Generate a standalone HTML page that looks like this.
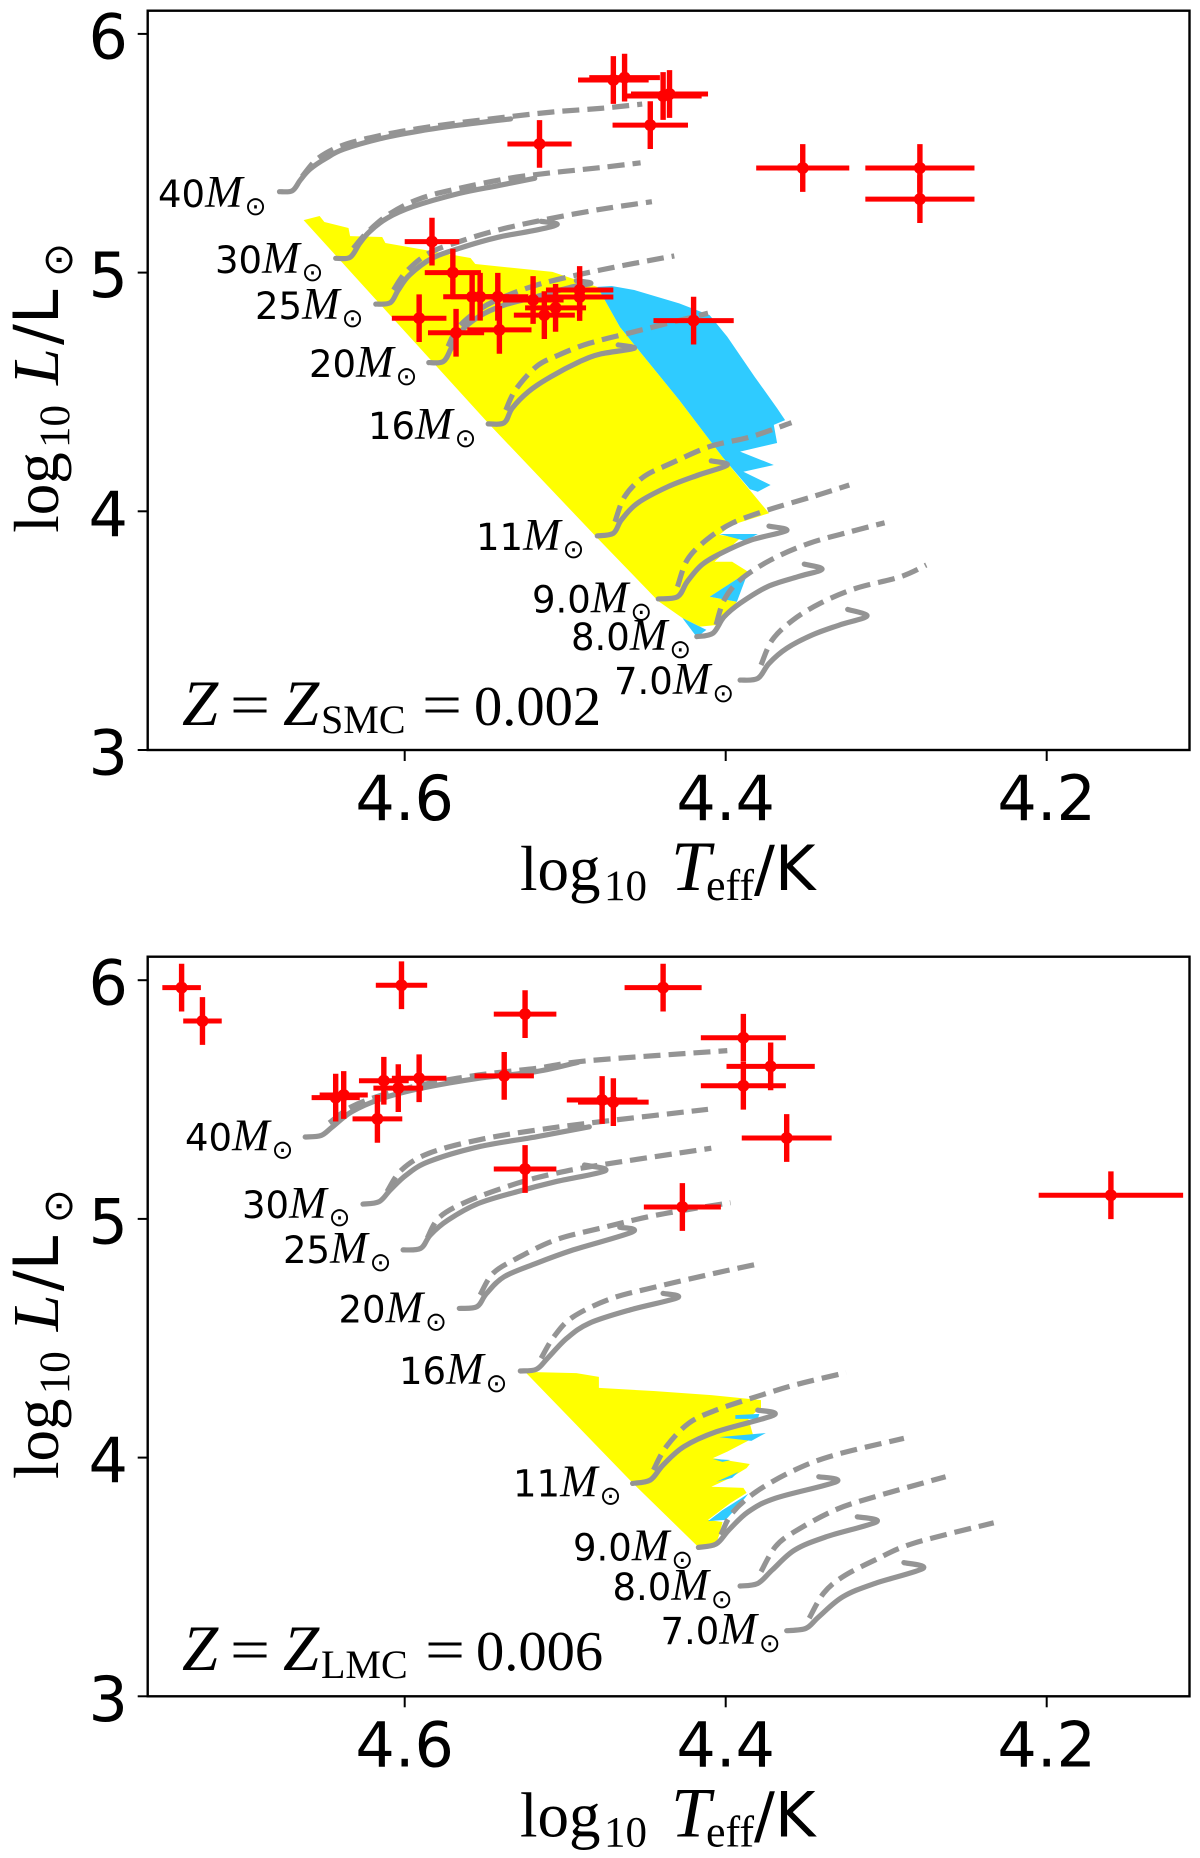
<!DOCTYPE html>
<html lang="en">
<head>
<meta charset="utf-8">
<title>HR diagrams for SMC and LMC metallicity</title>
<style>
html,body{margin:0;padding:0;background:#fff;}
svg{display:block;}
.tick{font-family:"DejaVu Sans","Liberation Sans",sans-serif;font-size:62px;fill:#000;}
.sans{font-family:"DejaVu Sans","Liberation Sans",sans-serif;fill:#000;}
.serif{font-family:"Liberation Serif",serif;fill:#000;}
.ital{font-family:"Liberation Serif",serif;font-style:italic;fill:#000;}
.mass{font-family:"DejaVu Sans","Liberation Sans",sans-serif;font-size:37px;fill:#000;}
.mass .m{font-family:"Liberation Serif",serif;font-style:italic;font-size:45px;}
.mass .s{font-family:"DejaVu Sans",sans-serif;font-size:26px;}
</style>
</head>
<body>
<svg id="figure" xmlns="http://www.w3.org/2000/svg" width="1200" height="1858" viewBox="0 0 1200 1858">
  <rect width="1200" height="1858" fill="#fff"/>
  <g id="panel-smc"></g>
  <g id="panel-lmc"></g>

  <!-- axis titles: top panel -->
  <g>
    <text class="serif" x="520" y="890" font-size="63">log</text>
    <text class="serif" x="604" y="900" font-size="43">10</text>
    <text class="ital" x="671" y="890" font-size="71">T</text>
    <text class="serif" x="706" y="900" font-size="44">eff</text>
    <text class="sans" x="754" y="890" font-size="62">/K</text>
  </g>
  <g>
    <text class="serif" x="58" y="532.7" font-size="63" transform="rotate(-90 58 532.7)">log</text>
    <text class="serif" x="69" y="448" font-size="43" transform="rotate(-90 69 448)">10</text>
    <text class="ital" x="58" y="385" font-size="66" transform="rotate(-90 58 385)">L</text>
    <text class="sans" x="58" y="345" font-size="62" transform="rotate(-90 58 345)">/L</text>
    <text class="sans" x="72" y="277" font-size="41" transform="rotate(-90 72 277)">⊙</text>
  </g>
  <!-- axis titles: bottom panel -->
  <g>
    <text class="serif" x="520" y="1836.3" font-size="63">log</text>
    <text class="serif" x="604" y="1846.3" font-size="43">10</text>
    <text class="ital" x="671" y="1836.3" font-size="71">T</text>
    <text class="serif" x="706" y="1846.3" font-size="44">eff</text>
    <text class="sans" x="754" y="1836.3" font-size="62">/K</text>
  </g>
  <g>
    <text class="serif" x="58" y="1479" font-size="63" transform="rotate(-90 58 1479)">log</text>
    <text class="serif" x="69" y="1394.3" font-size="43" transform="rotate(-90 69 1394.3)">10</text>
    <text class="ital" x="58" y="1331.3" font-size="66" transform="rotate(-90 58 1331.3)">L</text>
    <text class="sans" x="58" y="1291.3" font-size="62" transform="rotate(-90 58 1291.3)">/L</text>
    <text class="sans" x="72" y="1223.3" font-size="41" transform="rotate(-90 72 1223.3)">⊙</text>
  </g>

  <!-- metallicity annotations -->
  <g>
    <text class="ital" x="182" y="725" font-size="65">Z</text>
    <text class="serif" x="230" y="725" font-size="60" textLength="40" lengthAdjust="spacingAndGlyphs">=</text>
    <text class="ital" x="283" y="725" font-size="65">Z</text>
    <text class="serif" x="321" y="733" font-size="40">SMC</text>
    <text class="serif" x="422" y="725" font-size="60" textLength="40" lengthAdjust="spacingAndGlyphs">=</text>
    <text class="serif" x="474" y="725" font-size="56.5">0.002</text>
  </g>
  <g>
    <text class="ital" x="182" y="1670" font-size="65">Z</text>
    <text class="serif" x="230" y="1670" font-size="60" textLength="40" lengthAdjust="spacingAndGlyphs">=</text>
    <text class="ital" x="283" y="1670" font-size="65">Z</text>
    <text class="serif" x="321" y="1678" font-size="40">LMC</text>
    <text class="serif" x="425" y="1670" font-size="60" textLength="40" lengthAdjust="spacingAndGlyphs">=</text>
    <text class="serif" x="476" y="1670" font-size="56.5">0.006</text>
  </g>

  <!-- mass labels: top panel -->
  <text class="mass" x="158" y="207">40<tspan class="m">M</tspan><tspan class="s" dx="2" dy="8">⊙</tspan></text>
  <text class="mass" x="215" y="273">30<tspan class="m">M</tspan><tspan class="s" dx="2" dy="8">⊙</tspan></text>
  <text class="mass" x="255" y="319">25<tspan class="m">M</tspan><tspan class="s" dx="2" dy="8">⊙</tspan></text>
  <text class="mass" x="309" y="377">20<tspan class="m">M</tspan><tspan class="s" dx="2" dy="8">⊙</tspan></text>
  <text class="mass" x="368" y="439">16<tspan class="m">M</tspan><tspan class="s" dx="2" dy="8">⊙</tspan></text>
  <text class="mass" x="476" y="550">11<tspan class="m">M</tspan><tspan class="s" dx="2" dy="8">⊙</tspan></text>
  <text class="mass" x="532" y="612.7">9.0<tspan class="m">M</tspan><tspan class="s" dx="2" dy="8">⊙</tspan></text>
  <text class="mass" x="571" y="650">8.0<tspan class="m">M</tspan><tspan class="s" dx="2" dy="8">⊙</tspan></text>
  <text class="mass" x="614" y="694">7.0<tspan class="m">M</tspan><tspan class="s" dx="2" dy="8">⊙</tspan></text>
  <!-- mass labels: bottom panel -->
  <text class="mass" x="185" y="1150.7">40<tspan class="m">M</tspan><tspan class="s" dx="2" dy="8">⊙</tspan></text>
  <text class="mass" x="242" y="1218">30<tspan class="m">M</tspan><tspan class="s" dx="2" dy="8">⊙</tspan></text>
  <text class="mass" x="283" y="1263">25<tspan class="m">M</tspan><tspan class="s" dx="2" dy="8">⊙</tspan></text>
  <text class="mass" x="338.5" y="1322.7">20<tspan class="m">M</tspan><tspan class="s" dx="2" dy="8">⊙</tspan></text>
  <text class="mass" x="399" y="1384">16<tspan class="m">M</tspan><tspan class="s" dx="2" dy="8">⊙</tspan></text>
  <text class="mass" x="513" y="1496.7">11<tspan class="m">M</tspan><tspan class="s" dx="2" dy="8">⊙</tspan></text>
  <text class="mass" x="573" y="1560.7">9.0<tspan class="m">M</tspan><tspan class="s" dx="2" dy="8">⊙</tspan></text>
  <text class="mass" x="612.5" y="1600">8.0<tspan class="m">M</tspan><tspan class="s" dx="2" dy="8">⊙</tspan></text>
  <text class="mass" x="660.5" y="1644">7.0<tspan class="m">M</tspan><tspan class="s" dx="2" dy="8">⊙</tspan></text>
</svg>

<script>
// ---- shared axis data ----
const xTickValues = [4.6, 4.4, 4.2];
const xTickLabels = ['4.6', '4.4', '4.2'];
const yTickValues = [6, 5, 4, 3];
const yTickLabels = ['6', '5', '4', '3'];

// ---- SMC tracks: [log Teff, log L] ----
const smc40Solid = [[4.678,5.339],[4.670,5.343],[4.665,5.388],[4.659,5.433],[4.649,5.479],[4.638,5.517],[4.614,5.563],[4.590,5.594],[4.566,5.618],[4.534,5.644]];
const smc40Dashed = [[4.664,5.402],[4.654,5.479],[4.638,5.535],[4.614,5.576],[4.590,5.605],[4.566,5.628],[4.535,5.653],[4.506,5.674],[4.478,5.688],[4.452,5.706]];
const smc30Solid = [[4.643,5.060],[4.634,5.064],[4.628,5.123],[4.622,5.171],[4.611,5.228],[4.595,5.276],[4.566,5.332],[4.542,5.364],[4.519,5.395]];
const smc30Dashed = [[4.632,5.102],[4.623,5.171],[4.609,5.248],[4.590,5.311],[4.566,5.353],[4.535,5.395],[4.506,5.420],[4.478,5.440],[4.453,5.460]];
const smc25Solid = [[4.618,4.868],[4.609,4.874],[4.604,4.927],[4.597,4.990],[4.583,5.060],[4.566,5.102],[4.542,5.148],[4.518,5.178],[4.505,5.202],[4.515,5.215]];
const smc25Dashed = [[4.607,4.927],[4.599,5.004],[4.585,5.081],[4.566,5.130],[4.542,5.178],[4.514,5.220],[4.478,5.265],[4.446,5.297]];
const smc20Solid = [[4.585,4.623],[4.576,4.627],[4.571,4.683],[4.566,4.746],[4.554,4.815],[4.538,4.864],[4.518,4.899],[4.495,4.941],[4.484,4.955],[4.493,4.966]];
const smc20Dashed = [[4.573,4.690],[4.567,4.767],[4.554,4.843],[4.538,4.899],[4.514,4.955],[4.478,5.011],[4.432,5.070]];
const smc16Solid = [[4.548,4.366],[4.538,4.371],[4.533,4.432],[4.523,4.501],[4.509,4.564],[4.491,4.627],[4.478,4.659],[4.457,4.683],[4.467,4.697]];
const smc16Dashed = [[4.537,4.424],[4.531,4.508],[4.518,4.606],[4.504,4.655],[4.485,4.704],[4.457,4.752],[4.411,4.830]];
const smc11Solid = [[4.480,3.897],[4.470,3.908],[4.465,3.964],[4.455,4.034],[4.436,4.103],[4.417,4.152],[4.399,4.194],[4.409,4.211]];
const smc11Dashed = [[4.469,3.956],[4.463,4.061],[4.451,4.145],[4.434,4.201],[4.410,4.271],[4.384,4.313],[4.359,4.371]];
const smc9Solid = [[4.442,3.633],[4.430,3.642],[4.424,3.705],[4.415,3.775],[4.403,3.824],[4.384,3.880],[4.362,3.919],[4.373,3.938]];
const smc9Dashed = [[4.430,3.684],[4.424,3.796],[4.412,3.880],[4.396,3.950],[4.374,4.005],[4.346,4.061],[4.323,4.110]];
const smc8Solid = [[4.418,3.475],[4.408,3.489],[4.401,3.558],[4.391,3.615],[4.374,3.684],[4.355,3.726],[4.340,3.757],[4.351,3.779]];
const smc8Dashed = [[4.406,3.524],[4.401,3.628],[4.391,3.712],[4.372,3.796],[4.348,3.866],[4.322,3.915],[4.301,3.952]];
const smc7Solid = [[4.391,3.293],[4.380,3.300],[4.373,3.363],[4.362,3.426],[4.346,3.482],[4.329,3.524],[4.312,3.561],[4.324,3.589]];
const smc7Dashed = [[4.378,3.356],[4.371,3.461],[4.358,3.545],[4.341,3.615],[4.319,3.677],[4.291,3.726],[4.275,3.775]];

// ---- LMC tracks: [log Teff, log L] ----
const lmc40Solid = [[4.662,5.343],[4.652,5.350],[4.645,5.386],[4.633,5.449],[4.614,5.505],[4.590,5.547],[4.554,5.589],[4.518,5.617],[4.492,5.656]];
const lmc40Dashed = [[4.647,5.402],[4.633,5.470],[4.614,5.519],[4.590,5.561],[4.554,5.603],[4.518,5.631],[4.485,5.663],[4.399,5.705]];
const lmc30Solid = [[4.626,5.062],[4.616,5.072],[4.609,5.121],[4.599,5.184],[4.585,5.240],[4.554,5.302],[4.518,5.344],[4.485,5.386]];
const lmc30Dashed = [[4.611,5.114],[4.602,5.205],[4.585,5.275],[4.554,5.331],[4.518,5.372],[4.478,5.407],[4.411,5.459]];
const lmc25Solid = [[4.601,4.870],[4.590,4.877],[4.584,4.933],[4.573,4.995],[4.554,5.065],[4.530,5.114],[4.506,5.156],[4.475,5.202],[4.488,5.226]];
const lmc25Dashed = [[4.586,4.919],[4.578,5.009],[4.559,5.079],[4.530,5.149],[4.506,5.191],[4.478,5.226],[4.409,5.296]];
const lmc20Solid = [[4.566,4.625],[4.555,4.632],[4.549,4.688],[4.538,4.758],[4.518,4.814],[4.495,4.870],[4.458,4.946],[4.466,4.965]];
const lmc20Dashed = [[4.553,4.681],[4.545,4.772],[4.530,4.835],[4.506,4.912],[4.478,4.961],[4.443,5.016],[4.397,5.068]];
const lmc16Solid = [[4.528,4.363],[4.518,4.370],[4.511,4.416],[4.499,4.500],[4.485,4.563],[4.460,4.618],[4.430,4.670],[4.439,4.688]];
const lmc16Dashed = [[4.515,4.416],[4.507,4.507],[4.495,4.590],[4.471,4.667],[4.443,4.716],[4.407,4.772],[4.378,4.814]];
const lmc11Solid = [[4.458,3.892],[4.447,3.906],[4.439,3.969],[4.426,4.046],[4.406,4.108],[4.370,4.178],[4.380,4.199]];
const lmc11Dashed = [[4.445,3.948],[4.437,4.046],[4.423,4.144],[4.406,4.199],[4.381,4.255],[4.357,4.304],[4.325,4.356]];
const lmc9Solid = [[4.417,3.624],[4.406,3.638],[4.398,3.697],[4.386,3.773],[4.369,3.830],[4.331,3.899],[4.342,3.920]];
const lmc9Dashed = [[4.403,3.676],[4.396,3.767],[4.381,3.857],[4.357,3.948],[4.332,4.011],[4.289,4.081]];
const lmc8Solid = [[4.391,3.462],[4.380,3.473],[4.371,3.529],[4.357,3.613],[4.337,3.669],[4.306,3.731],[4.318,3.752]];
const lmc8Dashed = [[4.378,3.522],[4.369,3.627],[4.357,3.690],[4.332,3.780],[4.307,3.836],[4.263,3.920]];
const lmc7Solid = [[4.362,3.275],[4.350,3.285],[4.342,3.333],[4.327,3.417],[4.307,3.473],[4.277,3.536],[4.289,3.560]];
const lmc7Dashed = [[4.348,3.327],[4.339,3.432],[4.327,3.501],[4.307,3.571],[4.283,3.641],[4.233,3.727]];

const trackMasses = ['40', '30', '25', '20', '16', '11', '9', '8', '7'];
const smcSolidTracks = [smc40Solid, smc30Solid, smc25Solid, smc20Solid, smc16Solid, smc11Solid, smc9Solid, smc8Solid, smc7Solid];
const smcDashedTracks = [smc40Dashed, smc30Dashed, smc25Dashed, smc20Dashed, smc16Dashed, smc11Dashed, smc9Dashed, smc8Dashed, smc7Dashed];
const lmcSolidTracks = [lmc40Solid, lmc30Solid, lmc25Solid, lmc20Solid, lmc16Solid, lmc11Solid, lmc9Solid, lmc8Solid, lmc7Solid];
const lmcDashedTracks = [lmc40Dashed, lmc30Dashed, lmc25Dashed, lmc20Dashed, lmc16Dashed, lmc11Dashed, lmc9Dashed, lmc8Dashed, lmc7Dashed];

// ---- Observed stars ----
const smcStarTeff = [4.516,4.583,4.570,4.558,4.553,4.542,4.591,4.568,4.541,4.520,4.513,4.506,4.491,4.491,4.470,4.463,4.439,4.435,4.447,4.352,4.279,4.279,4.420];
const smcStarLum = [5.539,5.130,5.000,4.899,4.899,4.899,4.809,4.748,4.760,4.885,4.822,4.852,4.927,4.898,5.807,5.817,5.740,5.748,5.618,5.438,5.438,5.308,4.799];
const smcStarTeffErr = [0.020,0.017,0.0175,0.018,0.018,0.019,0.017,0.0175,0.020,0.019,0.019,0.019,0.021,0.021,0.022,0.022,0.024,0.024,0.0235,0.029,0.034,0.034,0.025];
const lmcStarTeff = [4.739,4.726,4.602,4.525,4.643,4.638,4.613,4.604,4.591,4.538,4.617,4.525,4.439,4.477,4.470,4.389,4.372,4.389,4.362,4.160,4.427];
const lmcStarLum = [5.969,5.829,5.979,5.858,5.508,5.519,5.579,5.548,5.589,5.599,5.419,5.209,5.969,5.498,5.489,5.759,5.639,5.558,5.339,5.099,5.050];
const lmcStarTeffErr = [0.012,0.012,0.016,0.0195,0.015,0.015,0.0155,0.0155,0.017,0.0185,0.0155,0.0195,0.024,0.022,0.022,0.0265,0.0275,0.0265,0.028,0.045,0.024];
const starLumErr = 0.1;

// ---- Shaded regions: [log Teff, log L] outlines ----
const smcYellowRegion = [[4.663,5.220],[4.653,5.237],[4.650,5.212],[4.635,5.187],[4.634,5.153],[4.614,5.149],[4.612,5.124],[4.559,5.061],[4.556,5.036],[4.508,5.003],[4.480,4.940],[4.466,4.772],[4.429,4.466],[4.402,4.227],[4.373,3.992],[4.396,3.943],[4.404,3.901],[4.391,3.887],[4.407,3.789],[4.396,3.789],[4.386,3.747],[4.410,3.642],[4.393,3.621],[4.405,3.524],[4.416,3.517],[4.427,3.553],[4.442,3.624],[4.480,3.888],[4.547,4.362]];
const smcBlueRegion = [[4.480,4.940],[4.471,4.944],[4.457,4.927],[4.429,4.871],[4.410,4.822],[4.399,4.731],[4.382,4.564],[4.368,4.432],[4.363,4.382],[4.370,4.362],[4.368,4.286],[4.391,4.250],[4.370,4.194],[4.389,4.166],[4.372,4.110],[4.380,4.082],[4.385,4.093],[4.402,4.227],[4.429,4.466],[4.466,4.772]];
const smcBluePatchA = [[4.404,3.905],[4.380,3.905],[4.388,3.876]];
const smcBluePatchB = [[4.410,3.642],[4.386,3.747],[4.393,3.621]];
const smcBluePatchC = [[4.427,3.553],[4.412,3.503],[4.418,3.473]];
const lmcYellowRegion = [[4.525,4.359],[4.493,4.354],[4.479,4.338],[4.479,4.292],[4.445,4.279],[4.409,4.262],[4.378,4.241],[4.378,4.208],[4.386,4.166],[4.383,4.095],[4.385,4.074],[4.399,4.025],[4.408,3.998],[4.385,3.973],[4.387,3.956],[4.397,3.915],[4.409,3.878],[4.389,3.873],[4.387,3.852],[4.397,3.810],[4.411,3.739],[4.402,3.730],[4.404,3.676],[4.407,3.625],[4.417,3.625],[4.458,3.894]];
const lmcBluePatchA = [[4.394,4.178],[4.379,4.183],[4.380,4.162],[4.394,4.162]];
const lmcBluePatchB = [[4.404,4.086],[4.375,4.103],[4.384,4.070]];
const lmcBluePatchC = [[4.408,3.994],[4.397,3.990],[4.402,3.982]];
const lmcBluePatchD = [[4.406,3.898],[4.392,3.940],[4.396,3.915]];
const lmcBluePatchE = [[4.386,3.848],[4.402,3.780],[4.411,3.734],[4.400,3.739],[4.390,3.814]];

// ---- Rendering ----
const SVG_NS = 'http://www.w3.org/2000/svg';
const xAxis = function (t) { return 404.7 + (4.6 - t) * 1605; };
const frameLeft = 147.7;
const frameRight = 1189.5;

function newEl(tag, parent) {
  const el = document.createElementNS(SVG_NS, tag);
  parent.appendChild(el);
  return el;
}

function smoothPath(points) {
  let d = 'M' + points[0][0].toFixed(1) + ' ' + points[0][1].toFixed(1);
  for (let i = 0; i < points.length - 1; i++) {
    const p0 = points[Math.max(0, i - 1)];
    const p1 = points[i];
    const p2 = points[i + 1];
    const p3 = points[Math.min(points.length - 1, i + 2)];
    const c1x = p1[0] + (p2[0] - p0[0]) / 6;
    const c1y = p1[1] + (p2[1] - p0[1]) / 6;
    const c2x = p2[0] - (p3[0] - p1[0]) / 6;
    const c2y = p2[1] - (p3[1] - p1[1]) / 6;
    d += 'C' + c1x.toFixed(1) + ' ' + c1y.toFixed(1) + ' ' + c2x.toFixed(1) + ' ' + c2y.toFixed(1) + ' ' + p2[0].toFixed(1) + ' ' + p2[1].toFixed(1);
  }
  return d;
}

function drawRegion(parent, yAxis, outline, color, name) {
  const el = newEl('polygon', parent);
  
  
  el.setAttribute('points', outline.map(function (p) { return xAxis(p[0]).toFixed(1) + ',' + yAxis(p[1]).toFixed(1); }).join(' '));
  el.setAttribute('fill', color);
}

function drawTrack(parent, yAxis, track, dashed, name) {
  const el = newEl('path', parent);
  
  
  el.setAttribute('d', smoothPath(track.map(function (p) { return [xAxis(p[0]), yAxis(p[1])]; })));
  el.setAttribute('fill', 'none');
  el.setAttribute('stroke', '#949494');
  el.setAttribute('stroke-width', '5.2');
  el.setAttribute('stroke-linejoin', 'round');
  if (dashed) {
    el.setAttribute('stroke-dasharray', '17 8');
  } else {
    el.setAttribute('stroke-linecap', 'round');
  }
}

function drawStars(parent, yAxis, teff, lum, teffErr, prefix) {
  teff.forEach(function (t, i) {
    const g = newEl('g', parent);
    
    
    const h = newEl('line', g);
    
    
    h.setAttribute('x1', xAxis(t - teffErr[i]));
    h.setAttribute('x2', xAxis(t + teffErr[i]));
    h.setAttribute('y1', yAxis(lum[i]));
    h.setAttribute('y2', yAxis(lum[i]));
    h.setAttribute('stroke', '#ff0000');
    h.setAttribute('stroke-width', '5');
    const v = newEl('line', g);
    
    
    v.setAttribute('x1', xAxis(t));
    v.setAttribute('x2', xAxis(t));
    v.setAttribute('y1', yAxis(lum[i] - starLumErr));
    v.setAttribute('y2', yAxis(lum[i] + starLumErr));
    v.setAttribute('stroke', '#ff0000');
    v.setAttribute('stroke-width', '5.4');
    const c = newEl('circle', g);
    
    
    c.setAttribute('cx', xAxis(t));
    c.setAttribute('cy', yAxis(lum[i]));
    c.setAttribute('r', '6');
    c.setAttribute('fill', '#ff0000');
  });
}

function drawAxes(parent, yAxis, top, bottom, prefix) {
  const frame = newEl('rect', parent);
  
  
  frame.setAttribute('x', frameLeft);
  frame.setAttribute('y', top);
  frame.setAttribute('width', frameRight - frameLeft);
  frame.setAttribute('height', bottom - top);
  frame.setAttribute('fill', 'none');
  frame.setAttribute('stroke', '#000');
  frame.setAttribute('stroke-width', '2.4');

  xTickValues.forEach(function (v, i) {
    const tick = newEl('line', parent);
    
    
    tick.setAttribute('x1', xAxis(v));
    tick.setAttribute('x2', xAxis(v));
    tick.setAttribute('y1', bottom);
    tick.setAttribute('y2', bottom + 11);
    tick.setAttribute('stroke', '#000');
    tick.setAttribute('stroke-width', '2');
    const label = newEl('text', parent);
    
    
    label.setAttribute('class', 'tick');
    label.setAttribute('x', xAxis(v));
    label.setAttribute('y', bottom + 70);
    label.setAttribute('text-anchor', 'middle');
    label.textContent = xTickLabels[i];
  });

  yTickValues.forEach(function (v, i) {
    const tick = newEl('line', parent);
    
    
    tick.setAttribute('x1', frameLeft - 10);
    tick.setAttribute('x2', frameLeft);
    tick.setAttribute('y1', yAxis(v));
    tick.setAttribute('y2', yAxis(v));
    tick.setAttribute('stroke', '#000');
    tick.setAttribute('stroke-width', '2');
    const label = newEl('text', parent);
    
    
    label.setAttribute('class', 'tick');
    label.setAttribute('x', 128);
    label.setAttribute('y', yAxis(v) + 24.5);
    label.setAttribute('text-anchor', 'end');
    label.textContent = yTickLabels[i];
  });
}

const smcY = function (l) { return 750 - (l - 3) * 238.7; };
const lmcY = function (l) { return 1696.3 - (l - 3) * 238.7; };
const smcPanel = document.getElementById('panel-smc');
const lmcPanel = document.getElementById('panel-lmc');

drawRegion(smcPanel, smcY, smcBlueRegion, '#2fcbff', 'smc-blue-region');
drawRegion(smcPanel, smcY, smcYellowRegion, '#ffff00', 'smc-yellow-region');
drawRegion(smcPanel, smcY, smcBluePatchA, '#2fcbff', 'smc-blue-patch');
drawRegion(smcPanel, smcY, smcBluePatchB, '#2fcbff', 'smc-blue-patch');
drawRegion(smcPanel, smcY, smcBluePatchC, '#2fcbff', 'smc-blue-patch');

drawRegion(lmcPanel, lmcY, lmcYellowRegion, '#ffff00', 'lmc-yellow-region');
drawRegion(lmcPanel, lmcY, lmcBluePatchA, '#2fcbff', 'lmc-blue-patch');
drawRegion(lmcPanel, lmcY, lmcBluePatchB, '#2fcbff', 'lmc-blue-patch');
drawRegion(lmcPanel, lmcY, lmcBluePatchC, '#2fcbff', 'lmc-blue-patch');
drawRegion(lmcPanel, lmcY, lmcBluePatchD, '#2fcbff', 'lmc-blue-patch');
drawRegion(lmcPanel, lmcY, lmcBluePatchE, '#2fcbff', 'lmc-blue-patch');

trackMasses.forEach(function (mass, i) {
  drawTrack(smcPanel, smcY, smcSolidTracks[i], false, 'smc-solid-track-' + mass);
  drawTrack(smcPanel, smcY, smcDashedTracks[i], true, 'smc-dashed-track-' + mass);
  drawTrack(lmcPanel, lmcY, lmcSolidTracks[i], false, 'lmc-solid-track-' + mass);
  drawTrack(lmcPanel, lmcY, lmcDashedTracks[i], true, 'lmc-dashed-track-' + mass);
});

drawStars(smcPanel, smcY, smcStarTeff, smcStarLum, smcStarTeffErr, 'smc');
drawStars(lmcPanel, lmcY, lmcStarTeff, lmcStarLum, lmcStarTeffErr, 'lmc');

drawAxes(smcPanel, smcY, 10.7, 750, 'smc');
drawAxes(lmcPanel, lmcY, 956.7, 1696.3, 'lmc');
</script>
</body>
</html>
